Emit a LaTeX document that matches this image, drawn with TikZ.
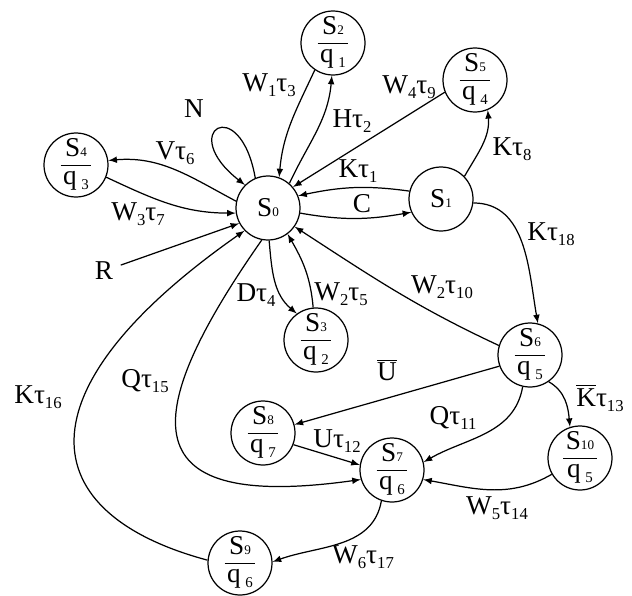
\documentclass[tikz,border=0pt]{standalone}
\usepackage{fontspec}
\setmainfont{Liberation Serif}
\usetikzlibrary{arrows}
\newcommand{\sub}[1]{\raisebox{-0.4ex}{\fontsize{9.5}{9.5}\selectfont #1}}
\newcommand{\Sd}[1]{S{\fontsize{7.5}{7.5}\selectfont #1}}
\newcommand{\qd}[1]{q\,\raisebox{-0.4ex}{\fontsize{8.5}{8.5}\selectfont #1}}
\newcommand{\frc}[2]{\renewcommand{\arraystretch}{0.85}\begin{tabular}{@{\hspace{1.5pt}}c@{\hspace{1.5pt}}}\Sd{#1}\\\hline\qd{#2}\end{tabular}}
\newcommand{\ovl}[1]{$\overline{\mbox{#1}}$}

\begin{document}
\begin{tikzpicture}[x=0.02cm,y=0.02cm,>=latex,line width=0.7pt,font=\fontsize{15.5}{18}\selectfont,
  st/.style={circle,draw,minimum size=1.28cm,inner sep=0pt},
  lbl/.style={inner sep=0pt}]
\useasboundingbox (0,0) rectangle (632,-595);

\node[st] (S0) at (268,-208) {\Sd{0}};
\node[st] (S1) at (441,-199) {\Sd{1}};
\node[st] (S2) at (333,-43) {\frc{2}{1}};
\node[st] (S3) at (316,-340) {\frc{3}{2}};
\node[st] (S4) at (76,-165) {\frc{4}{3}};
\node[st] (S5) at (475,-80) {\frc{5}{4}};
\node[st] (S6) at (530,-355) {\frc{6}{5}};
\node[st] (S7) at (392,-470) {\frc{7}{6}};
\node[st] (S8) at (263,-433) {\frc{8}{7}};
\node[st] (S9) at (240,-563) {\frc{9}{6}};
\node[st] (S10) at (580,-458) {\frc{10}{5}};
\node[lbl,inner sep=4pt] (R) at (104,-271) {R};

\path[->] (S0.49) edge[out=65,in=-95] (S2.-92);
\path[->] (S2.-124) edge[out=-115,in=85] (S0.70);
\path[->] (S0.113) edge[out=100,in=142,distance=1.75cm] (S0.135);
\path[->] (S0.168) edge[out=152,in=5] (S4.8);
\path[->] (S4.-22) edge[out=-25,in=180] (S0.189);
\path[->] (R) edge (S0.208);
\path[->] (S5.202) edge (S0.40);
\path[->] (S1.166) edge[out=172,in=12] (S0.22);
\path[->] (S0.-9) edge[out=-10,in=-170] (S1.-156);
\path[->] (S1.44) edge[out=60,in=-85] (S5.-67);
\path[->] (S1.-7) edge[out=0,in=100] (S6.76);
\path[->] (S6.163) edge[out=155,in=-33] (S0.-35);
\path[->] (S0.-88) edge[out=-85,in=140] (S3.126);
\path[->] (S3.95) edge[out=95,in=-60] (S0.-53);
\path[->] (S6.200) edge (S8.15);
\path[->] (S8.-21) edge (S7.171);
\path[->] (S6.-103) edge[out=-100,in=30] (S7.14);
\path[->] (S6.-55) edge[out=-30,in=95] (S10.108);
\path[->] (S10.210) edge[out=-150,in=-10] (S7.-17);
\path[->] (S0.-101) edge[out=-125,in=188,out distance=4.4cm,in distance=4.6cm] (S7.197);
\path[->] (S7.-109) edge[out=-100,in=20] (S9.2);
\path[->] (S9.175) edge[out=165,in=215,out distance=3.6cm,in distance=5.6cm] (S0.224);

\node[lbl] (lW13) at (269,-85) {W\sub{1}τ\sub{3}};
\node[lbl] (lH2) at (352,-121) {Hτ\sub{2}};
\node[lbl] (lW49) at (409,-87) {W\sub{4}τ\sub{9}};
\node[lbl] (lN) at (194,-109) {N};
\node[lbl] (lV6) at (175,-153) {Vτ\sub{6}};
\node[lbl] (lW37) at (138,-214) {W\sub{3}τ\sub{7}};
\node[lbl] (lK1) at (358,-171) {Kτ\sub{1}};
\node[lbl] (lC) at (362,-204) {C};
\node[lbl] (lK8) at (512,-149) {Kτ\sub{8}};
\node[lbl] (lK18) at (551,-234) {Kτ\sub{18}};
\node[lbl] (lW210) at (442,-287) {W\sub{2}τ\sub{10}};
\node[lbl] (lD4) at (256,-295) {Dτ\sub{4}};
\node[lbl] (lW25) at (341,-294) {W\sub{2}τ\sub{5}};
\node[lbl] (lU) at (387,-370) {\ovl{U}};
\node[lbl] (lQ11) at (453,-418) {Qτ\sub{11}};
\node[lbl] (lK13) at (600,-398) {\ovl{K}τ\sub{13}};
\node[lbl] (lU12) at (337,-441) {Uτ\sub{12}};
\node[lbl] (lW514) at (497,-508) {W\sub{5}τ\sub{14}};
\node[lbl] (lW617) at (363,-557) {W\sub{6}τ\sub{17}};
\node[lbl] (lQ15) at (145,-381) {Qτ\sub{15}};
\node[lbl] (lK16) at (38,-397) {Kτ\sub{16}};
\end{tikzpicture}
\end{document}
